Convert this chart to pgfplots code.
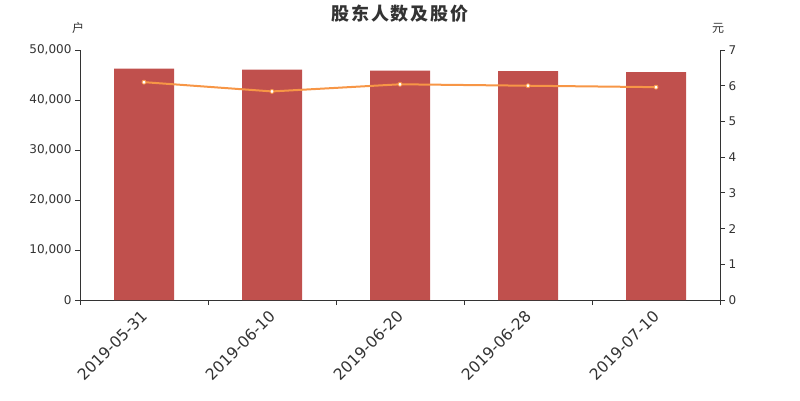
\documentclass[border=0pt]{standalone}
\usepackage{fontspec}
\setmainfont{DejaVu Sans}
\newfontfamily\cjk{Noto Sans CJK SC}
\usepackage{pgfplots}
\pgfplotsset{compat=1.18}
\definecolor{barred}{RGB}{192,80,77}
\definecolor{lineor}{RGB}{247,150,70}
\definecolor{txt}{RGB}{51,51,51}
\begin{document}
\begin{tikzpicture}[x=1pt,y=1pt]
\path[use as bounding box] (0,0) rectangle (800,400);
\begin{axis}[
  at={(80pt,100pt)}, anchor=south west,
  scale only axis, width=640pt, height=250pt,
  xmin=-0.5, xmax=4.5, ymin=0, ymax=50000,
  axis x line*=bottom, axis y line*=left,
  axis line style={txt, line width=0.8pt, -},
  tick align=outside,
  major tick length=5pt,
  tick style={txt, line width=0.8pt},
  xtick={0,1,2,3,4},
  xticklabels={2019-05-31,2019-06-10,2019-06-20,2019-06-28,2019-07-10},
  major x tick style={draw=none},
  x tick label style={rotate=45, anchor=north east, font=\fontsize{15.6}{15.6}\selectfont, text=txt, inner sep=1pt, xshift=-4pt, yshift=1pt},
  extra x ticks={-0.5,0.5,1.5,2.5,3.5,4.5},
  extra x tick labels={},
  extra x tick style={major x tick style={draw=txt, line width=0.8pt}},
  ytick={0,10000,20000,30000,40000,50000},
  scaled y ticks=false,
  y tick label style={font=\fontsize{12}{12}\selectfont, text=txt},
  /pgf/number format/.cd, 1000 sep={,}, assume math mode=true,
]
\addplot[ybar, bar width=60pt, fill=barred, draw=none] coordinates {
  (0,46260) (1,46060) (2,45860) (3,45800) (4,45600)
};
\end{axis}
\begin{axis}[
  at={(80pt,100pt)}, anchor=south west,
  scale only axis, width=640pt, height=250pt,
  xmin=-0.5, xmax=4.5, ymin=0, ymax=7,
  axis x line=none, axis y line*=right,
  axis line style={txt, line width=0.8pt, -},
  tick align=outside,
  major tick length=5pt,
  tick style={txt, line width=0.8pt},
  ytick={0,1,2,3,4,5,6,7},
  y tick label style={font=\fontsize{12}{12}\selectfont, text=txt},
  /pgf/number format/assume math mode=true,
]
\addplot[lineor, line width=2pt, mark=*, mark size=2pt, mark options={fill=white, draw=lineor, line width=0.8pt}] coordinates {
  (0,6.10) (1,5.84) (2,6.04) (3,6.00) (4,5.96)
};
\end{axis}
\node[text=txt] at (78,372) {\cjk\fontsize{12}{12}\selectfont 户};
\node[text=txt] at (718,372) {\cjk\fontsize{12}{12}\selectfont 元};
\node[text=txt] at (400,386) {\cjk\bfseries\fontsize{18}{18}\selectfont 股\hspace{2pt}东\hspace{2pt}人\hspace{2pt}数\hspace{2pt}及\hspace{2pt}股\hspace{2pt}价};
\end{tikzpicture}
\end{document}
